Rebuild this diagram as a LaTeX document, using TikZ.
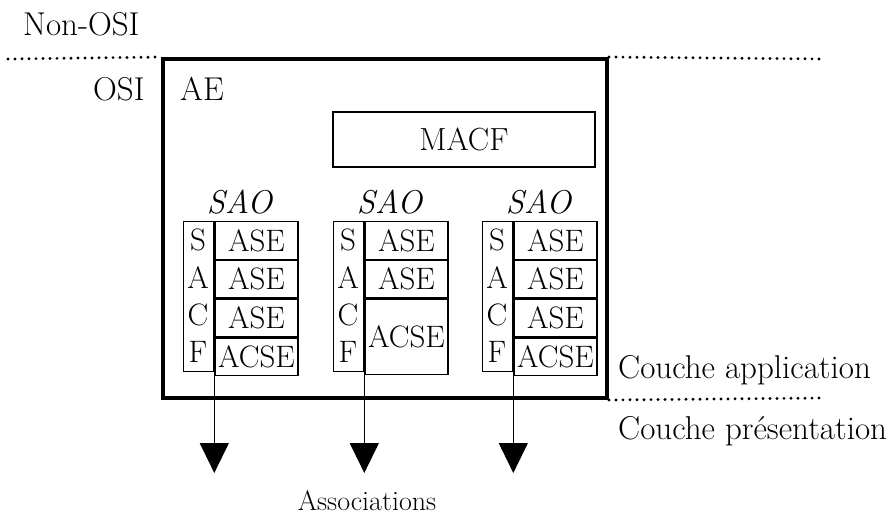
\documentclass[tikz,border=0pt]{standalone}
\usetikzlibrary{
    positioning,
    arrows.meta,
}
\tikzstyle{frame} = [draw, line width=4pt, minimum width=444pt, minimum height=339pt]
\tikzstyle{cell} = [draw, line width=1.3pt, font=\fontsize{31}{37}\selectfont]
\tikzstyle{sacf} = [font=\fontsize{31}{37}\selectfont]
\tikzstyle{sao} = [font=\fontsize{33}{40}\selectfont\itshape]
\tikzstyle{layer} = [draw, line width=3.2pt, line cap=round, dash pattern=on 0pt off 7pt]
\tikzstyle{assoc} = [draw, line width=1.3pt, -{Triangle[width=29pt,length=30pt]}]

\begin{document}
\begin{tikzpicture}[x=1pt, y=-1pt, font=\fontsize{33}{40}\selectfont,
    every node/.style={inner sep=0pt}]
        \useasboundingbox (0,0) rectangle (893,515);
        % Place nodes
        \node [frame] (ae) at (385,228.5) {};
        \node [anchor=base west] (nonosi) at (23,35) {Non-OSI};
        \node [anchor=base west] (osi) at (93,100) {OSI};
        \node [anchor=base west] (aename) at (180,100) {AE};
        \node [cell, minimum width=262pt, minimum height=55pt,
            font=\fontsize{32}{38}\selectfont] (macf) at (464,139.5) {MACF};
        \foreach \x/\n in {183/1, 333/2, 482/3} {
            \node [sao, anchor=base] (sao\n) at (\x+56.5,213) {SAO};
            \node [cell, minimum width=30pt, minimum height=150pt,
                anchor=north west] (col\n) at (\x,221) {};
            \foreach \l/\y in {S/239.75, A/277.25, C/314.75, F/352.25}
                \node [sacf] at (\x+15,\y) {\l};
            \node [cell, minimum width=83pt, minimum height=37.5pt,
                anchor=north west] (r\n-1) at (col\n.north east) {ASE};
            \node [cell, minimum width=83pt, minimum height=37.5pt,
                below=0pt of r\n-1] (r\n-2) {ASE};
            \coordinate (tip\n) at (col\n.south east |- 0,473);
        }
        \foreach \n in {1,3} {
            \node [cell, minimum width=83pt, minimum height=37.5pt,
                below=0pt of r\n-2] (r\n-3) {ASE};
            \node [cell, minimum width=83pt, minimum height=37.5pt,
                below=0pt of r\n-3] (r\n-4) {ACSE};
        }
        \node [cell, minimum width=83pt, minimum height=75pt,
            below=0pt of r2-2] (r2-3) {ACSE};
        \node [anchor=base west] (app) at (618,378) {Couche application};
        \node [anchor=base west] (pres) at (618,439) {Couche pr\'esentation};
        \node [anchor=base, font=\fontsize{28}{34}\selectfont] (assocs)
            at (367,510) {Associations};
        % Layer boundaries
        \coordinate (l1) at (8,59);
        \coordinate (r1) at (825,59);
        \coordinate (r2) at (825,398);
        \path [layer] (l1) -- (ae.north west);
        \path [layer] (ae.north east) -- (r1);
        \path [layer] (ae.south east) -- (r2);
        % Draw edges
        \foreach \n in {1,2,3}
            \path [assoc] (col\n.south east) -- (tip\n);
\end{tikzpicture}
\end{document}
